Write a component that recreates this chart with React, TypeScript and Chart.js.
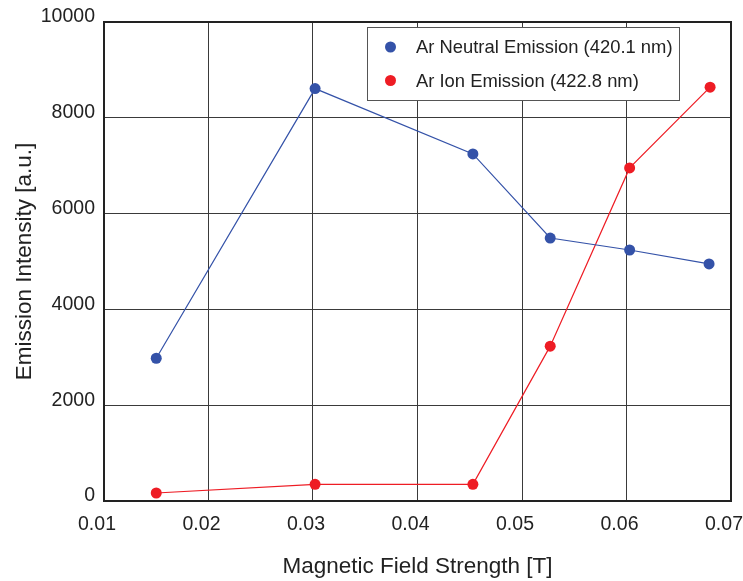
import React, { useEffect, useRef } from "react";
import { Chart, registerables } from "chart.js";

Chart.register(...registerables);

const neutralX = [0.0150, 0.0302, 0.0453, 0.0527, 0.0603, 0.0679];
const neutralY = [2980, 8610, 7245, 5490, 5240, 4950];
const ionX = [0.0150, 0.0302, 0.0453, 0.0527, 0.0603, 0.0680];
const ionY = [167, 349, 349, 3233, 6953, 8640];
const xTicks = [0.01, 0.02, 0.03, 0.04, 0.05, 0.06, 0.07];
const yTicks = [0, 2000, 4000, 6000, 8000, 10000];
const seriesNames = ["Ar Neutral Emission (420.1 nm)", "Ar Ion Emission (422.8 nm)"];
const seriesColors = ["#3452a8", "#ee1c24"];

const FONT = "'Liberation Sans', Arial, Helvetica, sans-serif";

const framePlugin = {
  id: "frame",
  beforeDatasetsDraw(chart: any) {
    const { ctx, chartArea: a } = chart;
    ctx.save();
    ctx.strokeStyle = "#222";
    ctx.lineWidth = 2;
    ctx.strokeRect(a.left, a.top, a.right - a.left, a.bottom - a.top);
    ctx.restore();
  },
};

const legendPlugin = {
  id: "insideLegend",
  afterDraw(chart: any) {
    const { ctx, chartArea: a } = chart;
    const left = a.right - 364;
    const top = a.top + 5;
    const w = 312;
    const h = 73;
    ctx.save();
    ctx.fillStyle = "#fff";
    ctx.fillRect(left, top, w, h);
    ctx.strokeStyle = "#555";
    ctx.lineWidth = 1;
    ctx.strokeRect(left + 0.5, top + 0.5, w, h);
    chart.data.datasets.forEach((ds: any, i: number) => {
      const cy = top + 20 + i * 33.5;
      ctx.beginPath();
      ctx.fillStyle = ds.pointBackgroundColor;
      ctx.arc(left + 23.5, cy, 5.5, 0, Math.PI * 2);
      ctx.fill();
      ctx.fillStyle = "#222";
      ctx.font = `18.4px ${FONT}`;
      ctx.textBaseline = "middle";
      ctx.textAlign = "left";
      ctx.fillText(ds.label, left + 49, cy + 1);
    });
    ctx.restore();
  },
};

export default function App() {
  const ref = useRef<HTMLCanvasElement>(null);
  useEffect(() => {
    if (!ref.current) return;
    const mk = (xs: number[], ys: number[]) => xs.map((x, i) => ({ x, y: ys[i] }));
    const chart = new Chart(ref.current, {
      type: "line",
      data: {
        datasets: [
          {
            label: seriesNames[0],
            data: mk(neutralX, neutralY),
            borderColor: seriesColors[0],
            backgroundColor: seriesColors[0],
            pointBackgroundColor: seriesColors[0],
            pointBorderWidth: 0,
            pointRadius: 5.5,
            borderWidth: 1.2,
            tension: 0,
          },
          {
            label: seriesNames[1],
            data: mk(ionX, ionY),
            borderColor: seriesColors[1],
            backgroundColor: seriesColors[1],
            pointBackgroundColor: seriesColors[1],
            pointBorderWidth: 0,
            pointRadius: 5.5,
            borderWidth: 1.2,
            tension: 0,
          },
        ],
      },
      options: {
        animation: false,
        responsive: false,
        devicePixelRatio: 1,
        layout: { padding: { left: 0, right: 12, top: 22, bottom: 0 } },
        plugins: { legend: { display: false }, tooltip: { enabled: false } },
        scales: {
          x: {
            type: "linear",
            min: 0.01,
            max: 0.07,
            afterBuildTicks: (s: any) => {
              s.ticks = xTicks.map((v) => ({ value: v }));
            },
            afterFit: (s: any) => {
              s.height = 80;
              s.paddingLeft = 0;
              s.paddingRight = 0;
            },
            grid: { color: "#3a3a3a", lineWidth: 1, drawTicks: false },
            border: { display: false },
            ticks: {
              padding: 12,
              labelOffset: -7,
              color: "#222",
              font: { family: FONT, size: 19.5 },
              callback: (v: any) => Number(v).toFixed(2),
              maxRotation: 0,
            },
            title: {
              display: true,
              text: "Magnetic Field Strength [T]",
              color: "#222",
              font: { family: FONT, size: 22.5 },
              padding: { top: 0, bottom: 0.5 },
            },
          },
          y: {
            type: "linear",
            min: 0,
            max: 10000,
            afterBuildTicks: (s: any) => {
              s.ticks = yTicks.map((v) => ({ value: v }));
            },
            afterFit: (s: any) => {
              s.width = 104;
              s.paddingTop = 0;
              s.paddingBottom = 0;
            },
            grid: { color: "#3a3a3a", lineWidth: 1, drawTicks: false },
            border: { display: false },
            ticks: {
              padding: 9,
              labelOffset: -5,
              color: "#222",
              font: { family: FONT, size: 19.5 },
              callback: (v: any) => String(v),
            },
            title: {
              display: true,
              text: "Emission Intensity [a.u.]",
              color: "#222",
              font: { family: FONT, size: 22.5 },
              padding: { top: 11.5, bottom: 0 },
            },
          },
        },
      },
      plugins: [framePlugin, legendPlugin],
    } as any);
    return () => chart.destroy();
  }, []);
  return (
    <div style={{ position: "fixed", left: 0, top: 0, width: 743, height: 581, background: "#fff" }}>
      <canvas ref={ref} width={743} height={581} style={{ width: 743, height: 581, display: "block" }} />
    </div>
  );
}
